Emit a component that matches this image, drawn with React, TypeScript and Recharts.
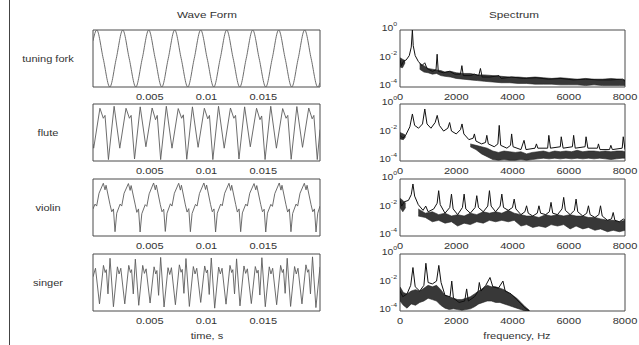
import React from "react";
import { LineChart, ComposedChart, Line, Area, XAxis, YAxis, ReferenceArea } from "recharts";

// waveforms: [time (ms), normalised amplitude]
const tuningFork = [
  [0, 0.62], [0.33, 1], [0.9, 0], [1.48, -1], [2.05, 0],
  [2.62, 1], [3.19, 0], [3.77, -1], [4.34, 0],
  [4.91, 1], [5.48, 0], [6.06, -1], [6.63, 0],
  [7.2, 1], [7.77, 0], [8.35, -1], [8.92, 0],
  [9.49, 1], [10.06, 0], [10.64, -1], [11.21, 0],
  [11.78, 1], [12.35, 0], [12.93, -1], [13.5, 0],
  [14.07, 1], [14.64, 0], [15.22, -1], [15.79, 0],
  [16.36, 1], [16.93, 0], [17.51, -1], [18.08, 0],
  [18.65, 1], [19.22, 0], [19.8, -1], [20, -0.85],
];

const flute = [
  [0, -0.4], [0.06, -0.55], [0.61, 0.85], [0.91, 0.5], [1.06, 0.6],
  [1.36, -0.95], [1.86, 0.92], [2.36, -0.55], [2.91, 0.85], [3.21, 0.5], [3.36, 0.6],
  [3.66, -0.93], [4.16, 0.9], [4.66, -0.5], [5.21, 0.86], [5.51, 0.45], [5.66, 0.6],
  [5.96, -0.95], [6.46, 0.92], [6.96, -0.55], [7.51, 0.84], [7.81, 0.5], [7.96, 0.62],
  [8.26, -0.94], [8.76, 0.9], [9.26, -0.52], [9.81, 0.85], [10.11, 0.48], [10.26, 0.6],
  [10.56, -0.95], [11.06, 0.92], [11.56, -0.55], [12.11, 0.86], [12.41, 0.5], [12.56, 0.6],
  [12.86, -0.93], [13.36, 0.9], [13.86, -0.5], [14.41, 0.85], [14.71, 0.45], [14.86, 0.58],
  [15.16, -0.95], [15.66, 0.92], [16.16, -0.55], [16.71, 0.84], [17.01, 0.5], [17.16, 0.6],
  [17.46, -0.94], [17.96, 0.91], [18.46, -0.52], [19.01, 0.86], [19.31, 0.48], [19.46, 0.6],
  [19.76, -0.95], [20, 0.1],
];

const violin = [
  [0, -0.05], [0.18, 0.12], [0.32, 0.05], [0.53, 0.5],
  [0.91, 0.85], [1.06, 0.62], [1.15, 0.78], [1.5, 0.1], [1.65, -0.15], [1.8, -0.05], [1.94, -0.85], [2.09, -0.2], [2.39, 0.12], [2.53, 0.05], [2.74, 0.5],
  [3.12, 0.84], [3.27, 0.6], [3.36, 0.77], [3.71, 0.12], [3.86, -0.17], [4.01, -0.05], [4.15, -0.86], [4.3, -0.22], [4.6, 0.1], [4.74, 0.04], [4.95, 0.48],
  [5.34, 0.86], [5.49, 0.62], [5.58, 0.79], [5.93, 0.1], [6.08, -0.15], [6.23, -0.06], [6.37, -0.84], [6.52, -0.2], [6.82, 0.13], [6.96, 0.05], [7.17, 0.5],
  [7.55, 0.85], [7.7, 0.61], [7.79, 0.78], [8.14, 0.09], [8.29, -0.16], [8.44, -0.04], [8.58, -0.85], [8.73, -0.21], [9.03, 0.11], [9.17, 0.05], [9.38, 0.49],
  [9.77, 0.86], [9.92, 0.63], [10.01, 0.79], [10.36, 0.1], [10.51, -0.15], [10.66, -0.05], [10.8, -0.86], [10.95, -0.2], [11.25, 0.12], [11.39, 0.06], [11.6, 0.5],
  [11.98, 0.85], [12.13, 0.6], [12.22, 0.78], [12.57, 0.11], [12.72, -0.16], [12.87, -0.05], [13.01, -0.85], [13.16, -0.19], [13.46, 0.12], [13.6, 0.05], [13.81, 0.5],
  [14.19, 0.84], [14.34, 0.62], [14.43, 0.77], [14.78, 0.1], [14.93, -0.15], [15.08, -0.06], [15.22, -0.86], [15.37, -0.2], [15.67, 0.11], [15.81, 0.04], [16.02, 0.49],
  [16.41, 0.86], [16.56, 0.61], [16.65, 0.78], [17.0, 0.1], [17.15, -0.16], [17.3, -0.05], [17.44, -0.85], [17.59, -0.21], [17.89, 0.12], [18.03, 0.05], [18.24, 0.5],
  [18.62, 0.85], [18.77, 0.62], [18.86, 0.78], [19.21, 0.1], [19.36, -0.15], [19.51, -0.05], [19.65, -0.86], [19.8, -0.2], [20, 0.05],
];

const singer = [
  [0, 0.2], [0.22, 0.5], [0.57, -0.75], [0.92, 0.6], [1.07, 0.35], [1.17, 0.45], [1.32, -0.4],
  [1.5, 0.85], [1.8, -0.85], [2.15, 0.55], [2.3, 0.3], [2.45, 0.5], [2.8, -0.75], [3.15, 0.6], [3.3, 0.35], [3.4, 0.45], [3.55, -0.4],
  [3.73, 0.82], [4.03, -0.8], [4.38, 0.6], [4.53, 0.32], [4.68, 0.48], [5.03, -0.72], [5.38, 0.55], [5.53, 0.3], [5.63, 0.42], [5.78, -0.45],
  [5.96, 0.88], [6.26, -0.86], [6.61, 0.52], [6.76, 0.28], [6.91, 0.52], [7.26, -0.78], [7.61, 0.62], [7.76, 0.36], [7.86, 0.46], [8.01, -0.38],
  [8.19, 0.84], [8.49, -0.84], [8.84, 0.56], [8.99, 0.3], [9.14, 0.5], [9.49, -0.7], [9.84, 0.58], [9.99, 0.34], [10.09, 0.44], [10.24, -0.42],
  [10.42, 0.86], [10.72, -0.9], [11.07, 0.54], [11.22, 0.3], [11.37, 0.5], [11.72, -0.76], [12.07, 0.6], [12.22, 0.35], [12.32, 0.45], [12.47, -0.4],
  [12.65, 0.83], [12.95, -0.82], [13.3, 0.58], [13.45, 0.32], [13.6, 0.48], [13.95, -0.74], [14.3, 0.56], [14.45, 0.33], [14.55, 0.43], [14.7, -0.44],
  [14.88, 0.87], [15.18, -0.85], [15.53, 0.55], [15.68, 0.3], [15.83, 0.5], [16.18, -0.78], [16.53, 0.6], [16.68, 0.35], [16.78, 0.46], [16.93, -0.38],
  [17.11, 0.85], [17.41, -0.84], [17.76, 0.56], [17.91, 0.3], [18.06, 0.5], [18.41, -0.75], [18.76, 0.62], [18.91, 0.36], [19.01, 0.45], [19.16, -0.4],
  [19.34, 0.9], [19.64, -0.88], [20, 0.55],
];

// spectra: [frequency (Hz), log10 magnitude]
const tuningSpec = [
  [0, -2.1], [50, -2.5], [120, -2.2], [220, -2.1], [330, -1.8], [400, -1.2], [440, 0], [470, -1.1],
  [540, -1.8], [650, -2.2], [780, -2.5], [880, -2.3], [960, -2.7], [1150, -2.9], [1280, -2.8],
  [1320, -1.7], [1360, -2.9], [1550, -3.0], [1760, -2.9], [1950, -3.1], [2150, -3.1], [2200, -2.5],
  [2250, -3.2], [2500, -3.2], [2640, -3.1], [2800, -3.2], [2860, -2.7], [2920, -3.3], [3200, -3.3],
  [3520, -3.2], [3600, -3.4], [3960, -3.3], [4400, -3.4], [4840, -3.35], [5280, -3.45], [5720, -3.4],
  [6160, -3.5], [6600, -3.45], [7040, -3.5], [7480, -3.5], [7920, -3.45], [8000, -3.6],
];

const fluteSpec = [
  [0, -2.2], [100, -2.4], [200, -2.2], [350, -1.6], [441, -0.7], [520, -1.5], [660, -1.7], [800, -1.4],
  [882, -0.35], [960, -1.4], [1100, -1.7], [1250, -1.3], [1323, -0.8], [1400, -1.5], [1550, -1.9],
  [1700, -1.7], [1764, -1.3], [1830, -1.9], [2000, -2.1], [2150, -1.8], [2205, -1.4], [2270, -2.1],
  [2450, -2.5], [2600, -2.4], [2646, -2.1], [2700, -2.6], [2900, -2.8], [3040, -2.7], [3087, -2.2],
  [3140, -2.8], [3350, -3.0], [3480, -2.8], [3528, -1.5], [3580, -2.9], [3800, -3.1], [3930, -2.9],
  [3969, -2.1], [4020, -3.0], [4300, -3.2], [4410, -2.55], [4480, -3.2], [4800, -3.1], [4851, -2.8],
  [4900, -3.1], [5250, -3.1], [5292, -2.2], [5350, -3.1], [5700, -3.0], [5733, -2.3], [5800, -3.1],
  [6130, -3.0], [6174, -2.2], [6230, -3.1], [6580, -3.0], [6615, -2.3], [6680, -3.1], [7020, -3.1],
  [7056, -2.8], [7110, -3.2], [7450, -3.2], [7497, -2.9], [7550, -3.2], [7900, -3.1], [7938, -2.3],
  [8000, -3.2],
];

const violinSpec = [
  [0, -1.5], [60, -1.9], [150, -1.6], [300, -1.5], [400, -1.1], [460, -0.35], [520, -1.2], [650, -1.8],
  [820, -2.2], [915, -1.9], [1000, -2.3], [1200, -2.1], [1320, -1.7], [1375, -0.82], [1430, -1.8],
  [1600, -2.4], [1770, -2.0], [1830, -1.06], [1890, -2.1], [2050, -2.5], [2220, -2.0], [2280, -1.06],
  [2340, -2.1], [2500, -2.4], [2670, -2.0], [2730, -1.17], [2790, -2.0], [2960, -2.3], [3120, -1.9],
  [3180, -0.82], [3240, -1.9], [3400, -2.3], [3560, -1.9], [3620, -1.06], [3680, -2.0], [3850, -2.2],
  [4000, -2.0], [4060, -1.41], [4120, -2.1], [4300, -2.5], [4440, -2.3], [4500, -1.88], [4560, -2.4],
  [4720, -2.6], [4880, -2.4], [4940, -1.88], [5000, -2.4], [5180, -2.5], [5310, -2.3], [5370, -1.64],
  [5430, -2.4], [5600, -2.5], [5760, -2.1], [5820, -1.29], [5880, -2.2], [6050, -2.5], [6200, -2.2],
  [6260, -1.41], [6320, -2.3], [6500, -2.6], [6640, -2.4], [6700, -1.88], [6760, -2.5], [6930, -2.7],
  [7070, -2.5], [7130, -1.88], [7190, -2.6], [7380, -2.9], [7520, -2.8], [7580, -2.35], [7640, -2.9],
  [7800, -3.0], [7950, -2.8], [8000, -2.9],
];

const singerSpec = [
  [0, -2.6], [100, -3.0], [250, -2.8], [380, -2.2], [460, -0.95], [540, -2.3], [700, -2.6], [850, -2.2],
  [920, -0.65], [1000, -2.0], [1150, -2.1], [1300, -1.9], [1380, -0.8], [1460, -2.0], [1600, -2.9],
  [1780, -3.0], [1840, -1.9], [1900, -3.1], [2100, -3.4], [2300, -3.3], [2370, -2.45], [2430, -3.3],
  [2650, -3.0], [2780, -2.6], [2820, -2.0], [2880, -2.6], [3050, -2.2], [3200, -1.65], [3300, -2.3],
  [3500, -2.4], [3660, -1.9], [3740, -2.6], [3950, -2.8], [4150, -3.2], [4300, -3.5], [4450, -3.8],
  [4600, -4.0],
];

// noisy floor of each spectrum: [frequency, low, high] (null = gap)
const tuningFloor = [
  [0, -2.6, -1.95], [90, -2.65, -2.05], [180, -2.3, -2.15], [200, null, null],
  [700, -2.75, -2.35], [850, -2.95, -2.5], [1000, -3.0, -2.7], [1150, -3.1, -2.75], [1300, -3.05, -2.8],
  [1450, -3.2, -2.85], [1600, -3.25, -2.95], [1800, -3.3, -2.9], [2000, -3.4, -3.0], [2250, -3.45, -3.05],
  [2500, -3.5, -3.05], [2750, -3.55, -3.15], [3000, -3.6, -3.15], [3300, -3.65, -3.2], [3600, -3.7, -3.25],
  [3900, -3.7, -3.3], [4200, -3.75, -3.3], [4500, -3.75, -3.35], [4800, -3.8, -3.3], [5100, -3.8, -3.35],
  [5400, -3.8, -3.4], [5700, -3.85, -3.35], [6000, -3.85, -3.4], [6300, -3.85, -3.45], [6600, -3.9, -3.4],
  [6900, -3.85, -3.45], [7200, -3.9, -3.45], [7500, -3.9, -3.4], [7800, -3.9, -3.45], [8000, -3.9, -3.5],
];

const fluteFloor = [
  [0, -2.45, -2.0], [120, -2.5, -2.1], [200, -2.3, -2.2], [220, null, null],
  [2500, -3.0, -2.8], [2700, -3.2, -2.9], [2900, -3.5, -3.0], [3100, -3.7, -3.1], [3300, -3.9, -3.3],
  [3500, -3.95, -3.4], [3700, -3.9, -3.3], [3900, -3.95, -3.35], [4100, -3.95, -3.4], [4300, -3.9, -3.35],
  [4500, -3.95, -3.5], [4700, -3.9, -3.4], [4900, -3.85, -3.35], [5100, -3.8, -3.3], [5300, -3.85, -3.4],
  [5500, -3.8, -3.3], [5700, -3.85, -3.35], [5900, -3.8, -3.3], [6100, -3.85, -3.35], [6300, -3.8, -3.25],
  [6500, -3.85, -3.35], [6700, -3.8, -3.3], [6900, -3.85, -3.3], [7100, -3.8, -3.35], [7300, -3.85, -3.3],
  [7500, -3.9, -3.35], [7700, -3.85, -3.3], [7900, -3.8, -3.3], [8000, -3.8, -3.35],
];

const violinFloor = [
  [0, -2.0, -1.35], [100, -2.3, -1.5], [200, -2.0, -1.7], [220, null, null],
  [650, -2.6, -2.1], [900, -2.7, -2.4], [1150, -3.0, -2.3], [1375, -2.9, -2.5], [1600, -3.1, -2.4],
  [1830, -3.0, -2.6], [2050, -3.3, -2.5], [2280, -3.1, -2.6], [2500, -3.2, -2.4], [2730, -3.0, -2.5],
  [2960, -3.1, -2.3], [3180, -2.9, -2.4], [3400, -3.0, -2.3], [3620, -2.9, -2.4], [3850, -3.0, -2.2],
  [4060, -2.9, -2.4], [4300, -3.3, -2.5], [4500, -3.2, -2.6], [4720, -3.4, -2.6], [4940, -3.3, -2.7],
  [5180, -3.4, -2.5], [5370, -3.2, -2.6], [5600, -3.3, -2.5], [5820, -3.2, -2.6], [6050, -3.5, -2.5],
  [6260, -3.3, -2.6], [6500, -3.5, -2.6], [6700, -3.4, -2.7], [6930, -3.6, -2.7], [7130, -3.5, -2.8],
  [7380, -3.7, -2.9], [7580, -3.6, -2.9], [7800, -3.7, -3.0], [8000, -3.6, -2.9],
];

const singerFloor = [
  [0, -3.3, -2.3], [120, -3.6, -2.7], [250, -3.8, -2.8], [400, -3.5, -2.6], [550, -3.6, -2.5],
  [700, -3.4, -2.6], [850, -3.3, -2.4], [1000, -3.1, -2.2], [1150, -3.2, -2.3], [1300, -3.3, -2.2],
  [1450, -3.6, -2.5], [1600, -3.8, -2.9], [1750, -3.9, -3.0], [1900, -3.85, -3.1], [2050, -3.9, -3.2],
  [2200, -3.95, -3.2], [2350, -3.9, -3.1], [2500, -3.85, -3.0], [2650, -3.7, -2.8], [2800, -3.5, -2.6],
  [2950, -3.4, -2.4], [3100, -3.3, -2.2], [3250, -3.3, -2.3], [3400, -3.4, -2.3], [3550, -3.4, -2.4],
  [3700, -3.5, -2.5], [3850, -3.6, -2.7], [4000, -3.7, -2.9], [4150, -3.8, -3.1], [4300, -3.9, -3.4],
  [4450, -4.0, -3.7], [4600, -4.0, -3.95],
];

const rowNames = ["tuning fork", "flute", "violin", "singer"];
const waveTicks = [5, 10, 15];
const specTicksX = [0, 2000, 4000, 6000, 8000];
const specTicksY = [-4, -2, 0];

const FONT = "'Liberation Sans', Arial, Helvetica, sans-serif";
const SX = 1.3; // text in the picture is stretched sideways
const INK = "#333";

const WAVE_X = 93;
const WAVE_W = 227;
const SPEC_X = 400;
const SPEC_W = 225;
const PANEL_H = 57;
const ROW_TOP = [30, 104, 179, 254];

const rows = [
  { wave: tuningFork, spec: tuningSpec, floor: tuningFloor, smooth: true },
  { wave: flute, spec: fluteSpec, floor: fluteFloor, smooth: false },
  { wave: violin, spec: violinSpec, floor: violinFloor, smooth: false },
  { wave: singer, spec: singerSpec, floor: singerFloor, smooth: false },
];

function Txt({ x, y, size = 8.5, anchor = "middle", children }: any) {
  return (
    <g transform={`translate(${x},${y}) scale(${SX},1)`}>
      <text textAnchor={anchor} dominantBaseline="central" fontSize={size} fill={INK} fontFamily={FONT}>
        {children}
      </text>
    </g>
  );
}

const WaveTick = ({ x, y, payload }: any) => <Txt x={x} y={y + 10}>{String(payload.value / 1000)}</Txt>;
const SpecXTick = ({ x, y, payload }: any) => <Txt x={x} y={y + 10}>{String(payload.value)}</Txt>;
const SpecYTick = ({ x, y, payload }: any) => (
  <g transform={`translate(${x - 3},${y - 2}) scale(1.15,1)`}>
    <text textAnchor="end" dominantBaseline="central" fontSize={9} fill={INK} fontFamily={FONT}>
      10<tspan dy={-4.5} fontSize={6}>{String(payload.value)}</tspan>
    </text>
  </g>
);

function WavePanel({ points, top, smooth }: any) {
  const m = { top: 4, right: 6, bottom: 0, left: 6 };
  const data = points.map(([t, v]: number[]) => ({ t, v }));
  return (
    <div style={{ position: "absolute", left: WAVE_X - m.left, top: top - m.top }}>
      <LineChart width={WAVE_W + m.left + m.right} height={PANEL_H + m.top + 18} data={data} margin={m}>
        <XAxis dataKey="t" type="number" domain={[0, 20]} ticks={waveTicks} interval={0} height={18}
          axisLine={false} tickLine={false} tickSize={0} tickMargin={0} tick={<WaveTick />} allowDataOverflow />
        <YAxis type="number" domain={[-1, 1]} hide allowDataOverflow />
        <ReferenceArea x1={0} x2={20} y1={-1} y2={1} fill="none" stroke="#4a4a4a" strokeWidth={1} ifOverflow="visible" />
        <Line dataKey="v" type={smooth ? "monotone" : "linear"} stroke="#5c5c5c" strokeWidth={0.9}
          dot={false} isAnimationActive={false} />
      </LineChart>
    </div>
  );
}

function SpecPanel({ points, floor, top }: any) {
  const m = { top: 12, right: 16, bottom: 0, left: 0 };
  const yw = 30;
  const line = points.map(([f, a]: number[]) => ({ f, a }));
  const band = floor.map(([f, lo, hi]: any[]) => ({ f, r: lo == null ? null : [lo, hi] }));
  return (
    <div style={{ position: "absolute", left: SPEC_X - yw, top: top - m.top }}>
      <ComposedChart width={yw + SPEC_W + m.right} height={PANEL_H + m.top + 18} margin={m}>
        <XAxis dataKey="f" type="number" domain={[0, 8000]} ticks={specTicksX} interval={0} height={18}
          axisLine={false} tickLine={false} tickSize={0} tickMargin={0} tick={<SpecXTick />} allowDataOverflow />
        <YAxis type="number" domain={[-4, 0]} ticks={specTicksY} interval={0} width={yw}
          axisLine={false} tickLine={false} tickSize={0} tickMargin={0} tick={<SpecYTick />} allowDataOverflow />
        <ReferenceArea x1={0} x2={8000} y1={-4} y2={0} fill="none" stroke="#4a4a4a" strokeWidth={1} ifOverflow="visible" />
        <Area data={band} dataKey="r" type="linear" stroke="#222" strokeWidth={0.6} fill="#1c1c1c" fillOpacity={0.88}
          isAnimationActive={false} />
        <Line data={line} dataKey="a" type="linear" stroke="#111" strokeWidth={1}
          dot={false} isAnimationActive={false} />
      </ComposedChart>
    </div>
  );
}

export default function App() {
  return (
    <div style={{ position: "absolute", left: 0, top: 0, width: 639, height: 345, background: "#fff", overflow: "hidden" }}>
      <div style={{ position: "absolute", left: 9, top: 0, width: 1, height: 345, background: "#444" }} />
      {rows.map((r, i) => (
        <React.Fragment key={rowNames[i]}>
          <WavePanel points={r.wave} top={ROW_TOP[i]} smooth={r.smooth} />
          <SpecPanel points={r.spec} floor={r.floor} top={ROW_TOP[i]} />
        </React.Fragment>
      ))}
      <svg width={639} height={345} style={{ position: "absolute", left: 0, top: 0, pointerEvents: "none" }}>
        <Txt x={207} y={15} size={9}>Wave Form</Txt>
        <Txt x={514} y={15} size={9}>Spectrum</Txt>
        <Txt x={207} y={336} size={8.5}>time, s</Txt>
        <Txt x={517} y={336} size={8.5}>frequency, Hz</Txt>
        {rowNames.map((n, i) => (
          <Txt key={n} x={48} y={ROW_TOP[i] + PANEL_H / 2} size={8.5}>{n}</Txt>
        ))}
      </svg>
    </div>
  );
}
